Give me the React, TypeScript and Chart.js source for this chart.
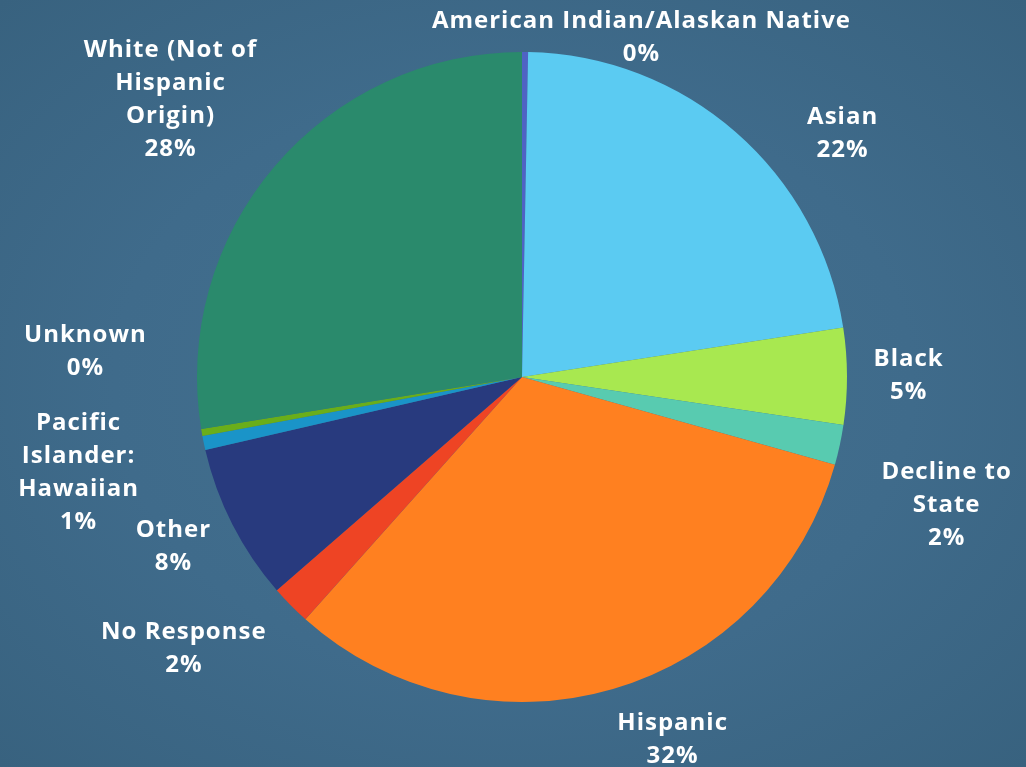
import React, { useEffect, useRef } from "react";
import { Chart, registerables } from "chart.js";

Chart.register(...registerables);

// ---- data ----
const categories = [
  "American Indian/Alaskan Native",
  "Asian",
  "Black",
  "Decline to State",
  "Hispanic",
  "No Response",
  "Other",
  "Pacific Islander: Hawaiian",
  "Unknown",
  "White (Not of Hispanic Origin)",
];
const values = [0.3, 22.3, 4.8, 2.0, 32.3, 2.0, 7.8, 0.7, 0.35, 27.6];
const labelLines = [
  ["American Indian/Alaskan Native"],
  ["Asian"],
  ["Black"],
  ["Decline to", "State"],
  ["Hispanic"],
  ["No Response"],
  ["Other"],
  ["Pacific", "Islander:", "Hawaiian"],
  ["Unknown"],
  ["White (Not of", "Hispanic", "Origin)"],
];

// ---- style / layout ----
const colors = [
  "#4F63C4",
  "#5BCBF2",
  "#A8E850",
  "#58CBB0",
  "#FF8020",
  "#EE4424",
  "#283A7E",
  "#1A94C8",
  "#6AAE1A",
  "#2A8A6C",
];
// label block centre, relative to pie centre, in units of outer radius
const labelOffsets: [number, number][] = [
  [0.366, -1.045],
  [0.985, -0.748],
  [1.188, -0.003],
  [1.305, 0.395],
  [0.462, 1.117],
  [-1.042, 0.837],
  [-1.074, 0.522],
  [-1.366, 0.295],
  [-1.345, -0.077],
  [-1.083, -0.852],
];
const FONT = "bold 24px 'Open Sans', 'DejaVu Sans', sans-serif";
const LINE_H = 33;

const labelPlugin = {
  id: "outsideLabels",
  afterDatasetsDraw(chart: any) {
    const ctx = chart.ctx;
    const meta = chart.getDatasetMeta(0);
    const data: number[] = chart.data.datasets[0].data;
    const total = data.reduce((a, b) => a + b, 0);
    ctx.save();
    ctx.font = FONT;
    try {
      (ctx as any).letterSpacing = "1px";
    } catch (e) {}
    ctx.fillStyle = "#ffffff";
    ctx.textAlign = "center";
    ctx.textBaseline = "middle";
    meta.data.forEach((arc: any, i: number) => {
      const R = arc.outerRadius;
      const cx = arc.x + labelOffsets[i][0] * R;
      const cy = arc.y + labelOffsets[i][1] * R;
      const lines = [...labelLines[i], Math.round((data[i] / total) * 100) + "%"];
      const top = cy - ((lines.length - 1) * LINE_H) / 2;
      lines.forEach((t, j) => ctx.fillText(t, cx + 0.5, top + j * LINE_H));
    });
    ctx.restore();
  },
};

export default function App() {
  const ref = useRef<HTMLCanvasElement | null>(null);
  useEffect(() => {
    document.body.style.margin = "0";
    if (!ref.current) return;
    const chart = new Chart(ref.current, {
      type: "pie",
      data: {
        labels: categories,
        datasets: [
          {
            data: values,
            backgroundColor: colors,
            borderWidth: 0,
          },
        ],
      },
      options: {
        animation: false,
        responsive: false,
        layout: { padding: { left: 197, right: 179, top: 52, bottom: 65 } },
        plugins: {
          legend: { display: false },
          tooltip: { enabled: false },
        },
      },
      plugins: [labelPlugin],
    });
    return () => chart.destroy();
  }, []);
  return (
    <div
      style={{
        width: 1026,
        height: 767,
        background:
          "radial-gradient(ellipse at 50% 50%, #44718F 0%, #3F6B8B 55%, #38627F 100%)",
      }}
    >
      <canvas ref={ref} width={1026} height={767} style={{ display: "block" }} />
    </div>
  );
}
